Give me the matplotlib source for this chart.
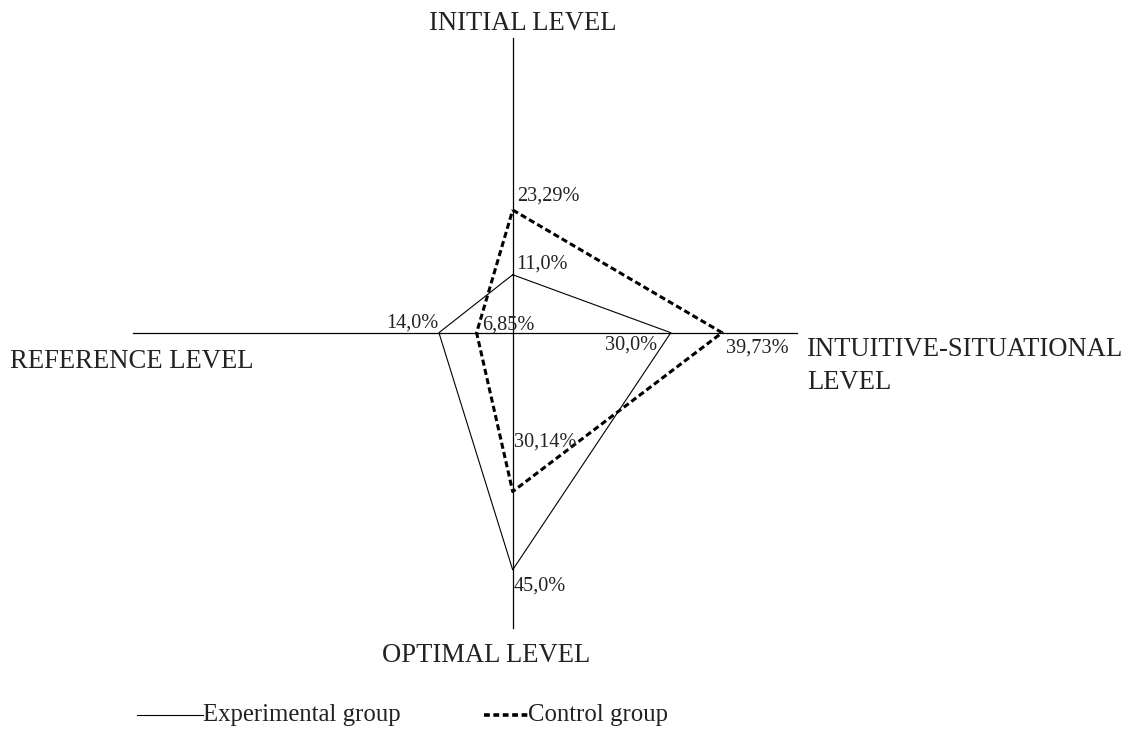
import matplotlib
matplotlib.use("Agg")
import matplotlib.pyplot as plt
import numpy as np

# Data (percent) in axis order: initial (up), intuitive-situational (right), optimal (down), reference (left)
levels = ["INITIAL LEVEL", "INTUITIVE-SITUATIONAL\nLEVEL", "OPTIMAL LEVEL", "REFERENCE LEVEL"]
experimental = [11.0, 30.0, 45.0, 14.0]
control = [23.29, 39.73, 30.14, 6.85]
exp_labels = ["11,0%", "30,0%", "45,0%", "14,0%"]
ctrl_labels = ["23,29%", "39,73%", "30,14%", "6,85%"]
series_names = ["Experimental group", "Control group"]

plt.rcParams['font.family'] = ['Liberation Serif', 'DejaVu Serif']

W, H, DPI = 1132, 736, 100
fig = plt.figure(figsize=(W / DPI, H / DPI), dpi=DPI)
ax = fig.add_axes([0, 0, 1, 1])
ax.set_axis_off()

scale = 5.27  # pixels per percent
cx, cy = 512.7, 332.7  # center in pixel coords from top-left
ax.set_xlim(-cx / scale, (W - cx) / scale)
ax.set_ylim(-(H - cy) / scale, cy / scale)

# directions: up, right, down, left
dirs = np.array([[0, 1], [1, 0], [0, -1], [-1, 0]])

# axis lines
ax.plot([-(cx - 133) / scale, (797 - cx) / scale], [0, 0], color="black", lw=0.9)
ax.plot([0, 0], [-(628 - cy) / scale, (cy - 38) / scale], color="black", lw=0.9)

def pts(vals):
    p = dirs * np.array(vals)[:, None]
    return np.vstack([p, p[:1]])

pe = pts(experimental)
pc = pts(control)
ax.plot(pe[:, 0], pe[:, 1], color="black", lw=0.8)
ax.plot(pc[:, 0], pc[:, 1], color="black", lw=2.2, linestyle=(0, (2.0, 1.1)))

vfs = 14.6
# value label offsets in pixels (dx, dy with y up), alignment
exp_off = [((4, 11), "left"), ((-14, -12), "right"), ((1, -16), "left"), ((0, 10), "right")]
ctrl_off = [((4, 14), "left"), ((4, -15), "left"), ((1, 49), "left"), ((6, 8), "left")]
for i in range(4):
    (dx, dy), ha = exp_off[i]
    ax.annotate(exp_labels[i], xy=(pe[i, 0], pe[i, 1]), xytext=(dx, dy),
                textcoords="offset pixels", ha=ha, va="center", fontsize=vfs, color="#222222")
    (dx, dy), ha = ctrl_off[i]
    ax.annotate(ctrl_labels[i], xy=(pc[i, 0], pc[i, 1]), xytext=(dx, dy),
                textcoords="offset pixels", ha=ha, va="center", fontsize=vfs, color="#222222")

lfs = 19.2
def fx(px):
    return px / W
def fy(py):
    return 1 - py / H

fig.text(fx(523), fy(23), levels[0], ha="center", va="center", fontsize=lfs, color="#222222")
fig.text(fx(807), fy(366), levels[1], ha="left", va="center", fontsize=lfs, color="#222222", linespacing=1.38)
fig.text(fx(10), fy(362), levels[3], ha="left", va="center", fontsize=lfs, color="#222222")
fig.text(fx(486), fy(656), levels[2], ha="center", va="center", fontsize=lfs, color="#222222")

# legend
lfs2 = 17.8
ly = 715
fig.add_artist(plt.Line2D([fx(137), fx(203)], [fy(ly), fy(ly)], color="black", lw=0.8))
fig.text(fx(203), fy(ly), series_names[0], ha="left", va="center", fontsize=lfs2, color="#222222")
fig.add_artist(plt.Line2D([fx(484), fx(528)], [fy(ly), fy(ly)], color="black", lw=2.6,
                          linestyle=(0, (1.6, 1.0))))
fig.text(fx(528), fy(ly), series_names[1], ha="left", va="center", fontsize=lfs2, color="#222222")

fig.savefig("out.png", dpi=DPI, facecolor="white")
